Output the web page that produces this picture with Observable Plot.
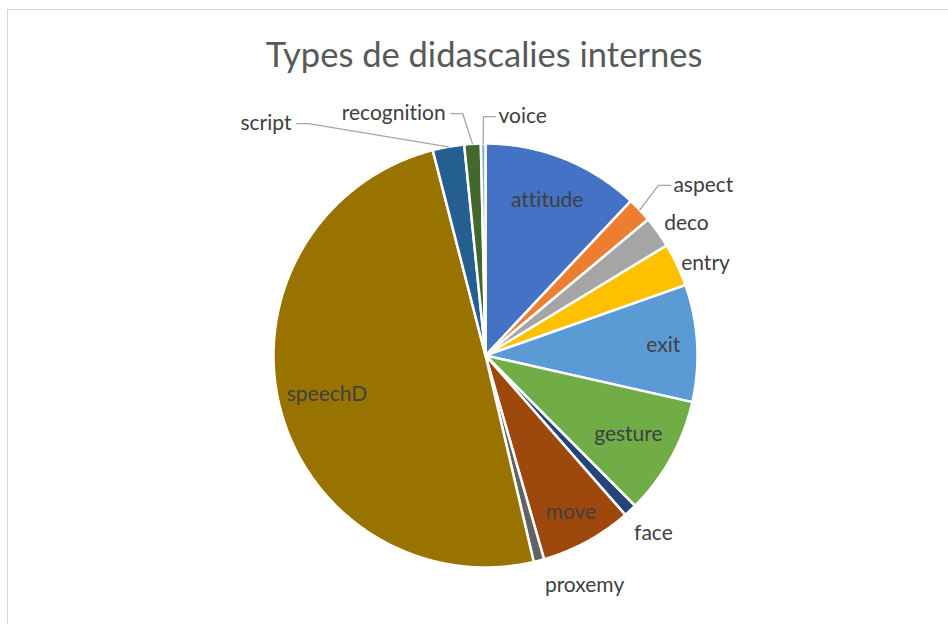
<!DOCTYPE html>
<html>
<head>
<meta charset="utf-8">
<script src="https://cdn.jsdelivr.net/npm/d3@7"></script>
<script src="https://cdn.jsdelivr.net/npm/@observablehq/plot@0.6"></script>
<style>
  html, body { margin: 0; padding: 0; background: #fff; }
  body { width: 948px; height: 624px; position: relative; overflow: hidden; font-family: Lato, "Open Sans", sans-serif; font-variant-ligatures: none; }
  #frame { position: absolute; left: 7px; top: 9px; width: 1200px; height: 900px; border: 1.5px solid #d9d9d9; box-sizing: border-box; }
  #title { position: absolute; left: 0; top: 37px; width: 968px; text-align: center; font-size: 34.5px; line-height: 34.5px; color: #595959; white-space: nowrap; }
  #chart { position: absolute; left: 0; top: 0; }
  #chart text { font-variant-ligatures: none; font-feature-settings: "liga" 0, "clig" 0; }
</style>
</head>
<body>
<div id="frame"></div>
<div id="chart"></div>
<div id="title">Types de didascalies internes</div>
<script>
// ---- data (shares in %) ----
const categories = ["attitude","aspect","deco","entry","exit","gesture","face","move","proxemy","speechD","script","recognition","voice"];
const shares     = [12.0, 1.9, 2.4, 3.3, 8.9, 9.0, 1.0, 7.0, 0.8, 49.6, 2.4, 1.25, 0.35];
const colors     = ["#4472C4","#ED7D31","#A5A5A5","#FFC000","#5B9BD5","#70AD47","#264478","#9E480E","#636363","#997300","#255E91","#43682B","#8FAADC"];

// ---- layout (pixels / radius units) ----
const W = 948, H = 624, CX = 485, CY = 355, R = 212;
const px = 1 / R; // one pixel in radius units
const labelLayout = {
  attitude:    {mode: "inside", r: 0.79},
  aspect:      {mode: "leader", angle: 47.4, r: 1.185, side: "start"},
  deco:        {mode: "outside", angle: 56.7, r: 1.134},
  entry:       {mode: "outside", angle: 67.3, r: 1.125},
  exit:        {mode: "inside", r: 0.84},
  gesture:     {mode: "inside", r: 0.77},
  face:        {mode: "outside", angle: 136.7, r: 1.155},
  move:        {mode: "inside", r: 0.84},
  proxemy:     {mode: "outside", angle: 156.7, r: 1.181},
  speechD:     {mode: "inside", r: 0.77},
  script:      {mode: "leader", angle: 320.8, r: 1.411, side: "end"},
  recognition: {mode: "leader", angle: 351.8, r: 1.153, side: "end"},
  voice:       {mode: "leader", angle: 2.4, r: 1.128, side: "start"}
};

// ---- derived geometry ----
const total = d3.sum(shares);
const rad = a => a * Math.PI / 180;
const polar = (aDeg, r) => ({x: r * Math.sin(rad(aDeg)), y: r * Math.cos(rad(aDeg))});

let acc = 0;
const slices = categories.map((name, i) => {
  const a0 = acc / total * 360;
  acc += shares[i];
  const a1 = acc / total * 360;
  return {name, a0, a1, mid: (a0 + a1) / 2};
});

const polyPoints = [];
for (const s of slices) {
  polyPoints.push({name: s.name, x: 0, y: 0});
  const n = Math.max(2, Math.ceil((s.a1 - s.a0) / 0.5));
  for (let k = 0; k <= n; k++) {
    const p = polar(s.a0 + (s.a1 - s.a0) * k / n, 1);
    polyPoints.push({name: s.name, ...p});
  }
  polyPoints.push({name: s.name, x: 0, y: 0});
}

const labels = [];
const leaders = [];
for (const s of slices) {
  const L = labelLayout[s.name];
  if (L.mode === "inside") {
    labels.push({name: s.name, anchor: "middle", ...polar(s.mid, L.r)});
  } else if (L.mode === "outside") {
    labels.push({name: s.name, anchor: "middle", ...polar(L.angle, L.r)});
  } else {
    const p = polar(L.angle, L.r);
    const e = polar(s.mid, 1.0);
    const elbowX = p.x + (L.side === "start" ? -12 : 12) * px;
    leaders.push({name: s.name, x: e.x, y: e.y});
    leaders.push({name: s.name, x: elbowX, y: p.y});
    leaders.push({name: s.name, x: p.x, y: p.y});
    labels.push({name: s.name, anchor: L.side, ...p});
  }
}

const textStyle = {fill: "#404040", fontSize: 21, fontFamily: "Lato, 'Open Sans', sans-serif"};

const chart = Plot.plot({
  width: W, height: H,
  margin: 0,
  x: {domain: [-CX / R, (W - CX) / R], axis: null},
  y: {domain: [-(H - CY) / R, CY / R], axis: null},
  color: {type: "ordinal", domain: categories, range: colors},
  style: {background: "transparent", overflow: "visible"},
  marks: [
    Plot.line(polyPoints, {x: "x", y: "y", z: "name", fill: "name", stroke: "white", strokeWidth: 2.5, strokeLinejoin: "round", curve: "linear"}),
    Plot.line(leaders, {x: "x", y: "y", z: "name", stroke: "#a6a6a6", strokeWidth: 1.3}),
    Plot.text(labels.filter(d => d.anchor === "middle"), {x: "x", y: "y", text: "name", textAnchor: "middle", ...textStyle}),
    Plot.text(labels.filter(d => d.anchor === "start"), {x: "x", y: "y", text: "name", textAnchor: "start", dx: 3, ...textStyle}),
    Plot.text(labels.filter(d => d.anchor === "end"), {x: "x", y: "y", text: "name", textAnchor: "end", dx: -5, ...textStyle})
  ]
});
document.getElementById("chart").appendChild(chart);
</script>
</body>
</html>
